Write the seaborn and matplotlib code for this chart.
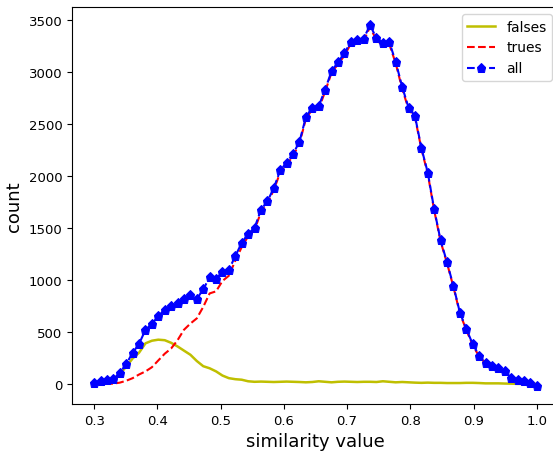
import numpy as np
import pandas as pd
import matplotlib
matplotlib.use("Agg")
import matplotlib.pyplot as plt
import seaborn as sns

similarity = [round(v, 4) for v in np.linspace(0.3, 1.0, 70)]

falses = [5, 25, 38, 45, 95, 165, 245, 300, 390, 415, 425, 420, 395, 360, 320, 280, 220, 170, 150, 120,
          80, 55, 45, 40, 25,
          20, 22, 20, 18, 20, 22, 20, 18, 15, 18, 25, 20, 15, 20, 22, 20, 18, 20, 20, 18,
          25, 20, 15, 18, 15, 12, 10, 12, 10, 10, 8, 8, 8, 10, 10, 8, 5, 5, 5, 3, 2, 0, 0, 0, 0]

trues = [0, 0, 0, 2, 12, 30, 55, 90, 120, 160, 225, 290, 340, 420, 520, 580, 630, 740, 870, 890,
         990, 1040, 1185, 1315, 1419,
         1479, 1653, 1735, 1866, 2034, 2106, 2192, 2310, 2550, 2640, 2646, 2811, 2993, 3074, 3156,
         3271, 3285, 3300, 3431, 3305, 3256, 3267, 3083, 2839, 2643, 2566, 2260, 2020, 1668, 1370,
         1160, 932, 678, 519, 372, 264, 196, 170, 148, 118, 55, 38, 25, 6, -20]

all_counts = [5, 25, 38, 47, 105, 192, 298, 385, 520, 577, 651, 715, 748, 782, 821, 856, 818, 908, 1027, 1011,
              1075, 1097, 1229, 1355, 1444, 1499, 1675, 1755, 1884, 2054, 2128, 2212, 2328, 2565, 2658,
              2671, 2831, 3008, 3094, 3178, 3291, 3303, 3320, 3451, 3323, 3281, 3287, 3098, 2857, 2658,
              2578, 2270, 2032, 1678, 1380, 1168, 940, 686, 529, 382, 272, 201, 175, 153, 121, 57, 38,
              25, 6, -20]

series_names = ["falses", "trues", "all"]

df = pd.DataFrame({"similarity": similarity, "falses": falses, "trues": trues, "all": all_counts})

fig = plt.figure(figsize=(5.53, 4.52), dpi=100)
ax = fig.add_axes([72 / 553, 47 / 452, (559 - 72) / 553, (405 - 8) / 452])

sns.lineplot(data=df, x="similarity", y="falses", ax=ax, color="y", linewidth=1.8, label=series_names[0])
sns.lineplot(data=df, x="similarity", y="trues", ax=ax, color="r", linestyle="--", linewidth=1.5,
             label=series_names[1])
sns.lineplot(data=df, x="similarity", y="all", ax=ax, color="b", linestyle="--", linewidth=1.5,
             marker="p", markersize=6.5, markeredgecolor="b", label=series_names[2])

ax.set_xticks([0.3, 0.4, 0.5, 0.6, 0.7, 0.8, 0.9, 1.0])
ax.set_yticks([0, 500, 1000, 1500, 2000, 2500, 3000, 3500])
ax.tick_params(labelsize=9.5)
ax.set_xlabel("similarity value", fontsize=13)
ax.set_ylabel("count", fontsize=13)
ax.legend(loc="upper right", fontsize=10)

fig.savefig("out.png", dpi=100)
